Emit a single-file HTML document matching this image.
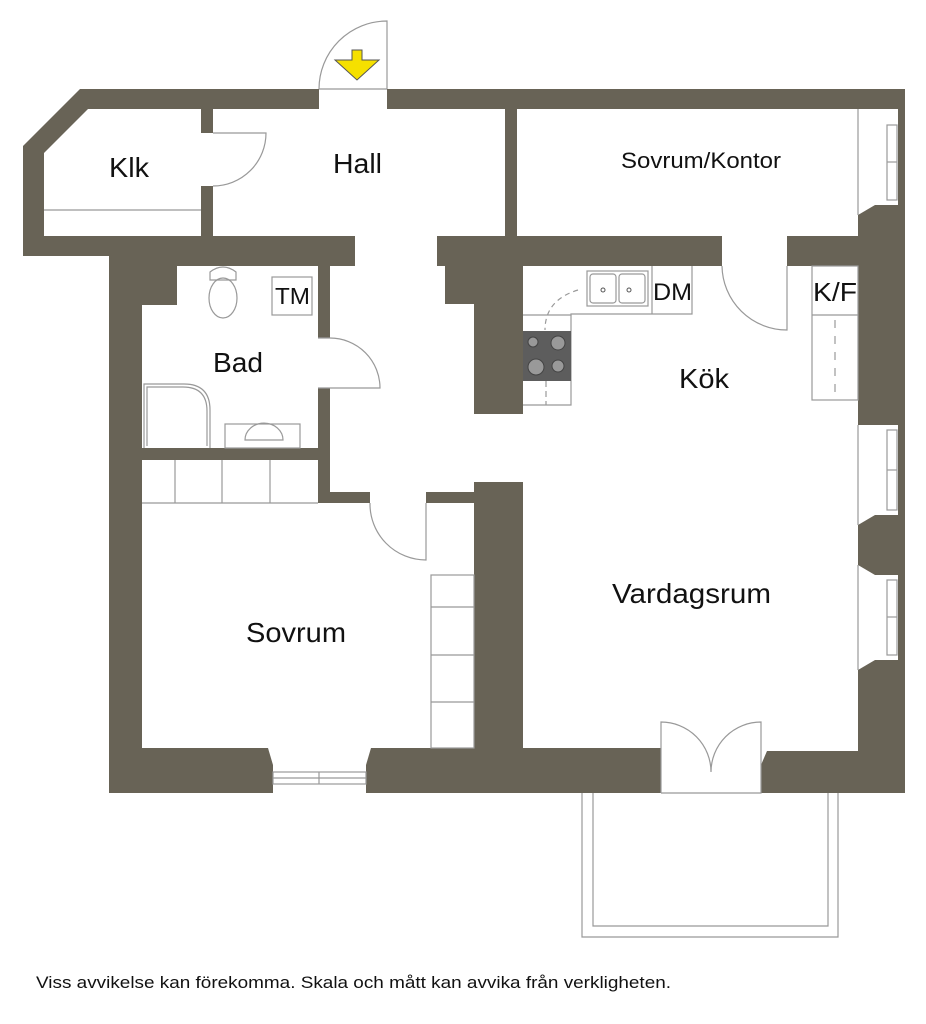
<!DOCTYPE html>
<html><head><meta charset="utf-8"><style>
html,body{margin:0;padding:0;background:#fff;}
svg{display:block;}
text{font-family:"Liberation Sans",Arial,sans-serif;fill:#111;}
</style></head><body>
<svg width="926" height="1024" viewBox="0 0 926 1024" xmlns="http://www.w3.org/2000/svg">
<g fill="#686356">
<polygon points="80,89 319,89 319,109 88,109 44,153 44,236 23,236 23,146"/>
<rect x="387" y="89" width="518" height="20"/>
<rect x="23" y="236" width="332" height="20"/>
<rect x="109" y="236" width="246" height="30"/>
<rect x="109" y="256" width="68" height="49"/>
<rect x="109" y="256" width="33" height="537"/>
<rect x="201" y="109" width="12" height="24"/>
<rect x="201" y="186" width="12" height="50"/>
<rect x="505" y="109" width="12" height="127"/>
<rect x="437" y="236" width="285" height="30"/>
<rect x="445" y="236" width="78" height="68"/>
<rect x="474" y="236" width="49" height="178"/>
<rect x="787" y="236" width="71" height="30"/>
<rect x="898" y="89" width="7" height="704"/>
<polygon points="858,215 875,205 905,205 905,425 858,425"/>
<polygon points="858,525 875,515 905,515 905,575 875,575 858,565"/>
<polygon points="858,670 875,660 905,660 905,793 858,793"/>
<rect x="858" y="89" width="47" height="20"/>
<rect x="318" y="266" width="12" height="72"/>
<rect x="318" y="388" width="12" height="115"/>
<rect x="142" y="448" width="188" height="12"/>
<rect x="318" y="492" width="52" height="11"/>
<rect x="426" y="492" width="97" height="11"/>
<rect x="474" y="482" width="49" height="311"/>
<polygon points="109,748 268,748 273,765 273,793 109,793"/>
<polygon points="366,765 371,748 661,748 661,793 366,793"/>
<polygon points="761,793 761,765 767,751 858,751 858,793"/>
<rect x="523" y="751" width="138" height="42"/>
<rect x="858" y="748" width="47" height="45"/>
</g>
<g fill="none" stroke="#999" stroke-width="1.2">
<path d="M387,89 L387,21 A68,68 0 0 0 319,89"/>
<line x1="319" y1="89" x2="387" y2="89"/>
<path d="M213,133 L266,133 A53,53 0 0 1 213,186"/>
<line x1="44" y1="210" x2="201" y2="210"/>
<path d="M318,338 L330,338 A50,50 0 0 1 380,388 L318,388"/>
<path d="M722,266 A65,65 0 0 0 787,330 L787,266"/>
<path d="M370,503 A56,56 0 0 0 426,560 L426,503"/>
<path d="M661,793 L661,722 A50,50 0 0 1 711,772 A50,50 0 0 1 761,722 L761,793 L661,793"/>
<path d="M582,793 L582,937 L838,937 L838,793"/>
<path d="M593,793 L593,926 L828,926 L828,793"/>
<rect x="273" y="772" width="93" height="12"/>
<line x1="273" y1="778" x2="366" y2="778"/>
<line x1="319" y1="772" x2="319" y2="784"/>
<rect x="887" y="125" width="10" height="75"/><line x1="887" y1="162" x2="897" y2="162"/>
<rect x="887" y="430" width="10" height="80"/><line x1="887" y1="470" x2="897" y2="470"/>
<rect x="887" y="580" width="10" height="75"/><line x1="887" y1="617" x2="897" y2="617"/>
<line x1="858" y1="109" x2="858" y2="215"/><line x1="858" y1="425" x2="858" y2="525"/><line x1="858" y1="565" x2="858" y2="670"/>
<rect x="272" y="277" width="40" height="38"/>
<path d="M210,272 Q223,262 236,272 L236,280 L210,280 Z"/>
<ellipse cx="223" cy="298" rx="14" ry="20"/>
<path d="M144,448 L144,384 L184,384 Q210,384 210,410 L210,448"/>
<path d="M147,446 L147,387 L183,387 Q207,387 207,411 L207,446"/>
<rect x="225" y="424" width="75" height="24"/>
<path d="M245,440 A18,16 0 1 1 283,440 Z"/>
<line x1="142" y1="503" x2="318" y2="503"/>
<line x1="175" y1="460" x2="175" y2="503"/><line x1="222" y1="460" x2="222" y2="503"/><line x1="270" y1="460" x2="270" y2="503"/>
<rect x="431" y="575" width="43" height="173"/>
<line x1="431" y1="607" x2="474" y2="607"/><line x1="431" y1="655" x2="474" y2="655"/><line x1="431" y1="702" x2="474" y2="702"/>
<path d="M523,315 L571,315 L571,314 L692,314 L692,266"/>
<path d="M571,315 L571,405 L523,405"/>
<line x1="652" y1="266" x2="652" y2="314"/>
<rect x="587" y="271" width="61" height="35"/>
<rect x="590" y="274" width="26" height="29" rx="3"/><rect x="619" y="274" width="26" height="29" rx="3"/>
<path d="M578,290 Q545,300 545,330" stroke-dasharray="5,4"/>
<line x1="546" y1="381" x2="546" y2="405" stroke-dasharray="6,4"/>
<rect x="812" y="266" width="46" height="134"/>
<line x1="812" y1="315" x2="858" y2="315"/>
<line x1="835" y1="320" x2="835" y2="395" stroke-dasharray="8,8"/>
</g>
<rect x="523" y="331" width="48" height="50" fill="#5d5d5d"/>
<g fill="#999" stroke="#444"><circle cx="533" cy="342" r="5"/><circle cx="558" cy="343" r="7"/><circle cx="536" cy="367" r="8"/><circle cx="558" cy="366" r="6"/></g>
<circle cx="603" cy="290" r="2" fill="none" stroke="#555"/><circle cx="629" cy="290" r="2" fill="none" stroke="#555"/>
<polygon points="352,50 362,50 362,60 379,60 357,80 335,60 352,60" fill="#f5e000" stroke="#555" stroke-width="1"/>
<g lengthAdjust="spacingAndGlyphs">
<text x="109" y="177" font-size="28" textLength="40" lengthAdjust="spacingAndGlyphs">Klk</text>
<text x="333" y="173" font-size="28" textLength="49" lengthAdjust="spacingAndGlyphs">Hall</text>
<text x="621" y="168" font-size="22" textLength="160" lengthAdjust="spacingAndGlyphs">Sovrum/Kontor</text>
<text x="275" y="304" font-size="23" textLength="35" lengthAdjust="spacingAndGlyphs">TM</text>
<text x="213" y="372" font-size="28" textLength="50" lengthAdjust="spacingAndGlyphs">Bad</text>
<text x="653" y="300" font-size="24" textLength="39" lengthAdjust="spacingAndGlyphs">DM</text>
<text x="813" y="301" font-size="26" textLength="44" lengthAdjust="spacingAndGlyphs">K/F</text>
<text x="679" y="388" font-size="28" textLength="50" lengthAdjust="spacingAndGlyphs">Kök</text>
<text x="246" y="642" font-size="28" textLength="100" lengthAdjust="spacingAndGlyphs">Sovrum</text>
<text x="612" y="603" font-size="28" textLength="159" lengthAdjust="spacingAndGlyphs">Vardagsrum</text>
<text x="36" y="988" font-size="17" textLength="635" lengthAdjust="spacingAndGlyphs">Viss avvikelse kan förekomma. Skala och mått kan avvika från verkligheten.</text>
</g>
</svg>
</body></html>
